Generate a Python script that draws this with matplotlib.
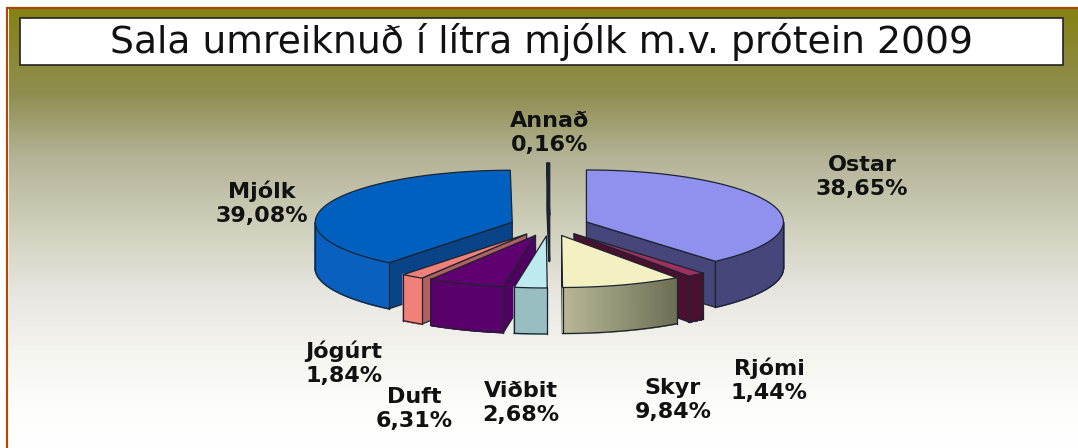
import numpy as np
import matplotlib
matplotlib.use("Agg")
import matplotlib.pyplot as plt
from matplotlib.colors import LinearSegmentedColormap, to_rgb

TITLE = "Sala umreiknuð í lítra mjólk m.v. prótein 2009"
categories = ["Ostar", "Rjómi", "Skyr", "Viðbit", "Duft", "Jógúrt", "Mjólk", "Annað"]
values = [38.65, 1.44, 9.84, 2.68, 6.31, 1.84, 39.08, 0.16]
value_labels = ["38,65%", "1,44%", "9,84%", "2,68%", "6,31%", "1,84%", "39,08%", "0,16%"]
top_colors = ["#9090EE", "#A03060", "#F3F1C2", "#BDEAEE", "#600070", "#F08078", "#0060C0", "#5A7070"]
face_colors = ["#46467A", "#4A1030", "#8A8A6C", "#8FB8BC", "#500060", "#B06060", "#0A4488", "#3A4A4A"]
wall_left = ["#46467A", "#4A1030", "#B8B898", "#98BEC2", "#5A006A", "#F08078", "#0A60BE", "#3A4A4A"]
wall_right = ["#46467A", "#4A1030", "#6E6E55", "#98BEC2", "#5A006A", "#F08078", "#0A60BE", "#3A4A4A"]
label_pos = [(862, 177), (769, 380), (673, 400), (521, 403), (414, 409), (344, 363), (262, 203), (550, 133)]
paint_order = ["Annað", "Mjólk", "Ostar", "Jógúrt", "Rjómi", "Duft", "Skyr", "Viðbit"]

W, H = 1078, 448
CX, CY, RX, RY, DEPTH, EXPLODE = 549.5, 225.6, 197, 52, 46, 0.2
EDGE = "#1c2430"

fig = plt.figure(figsize=(W / 100, H / 100), dpi=100)
ax = fig.add_axes([0, 0, 1, 1])

# background
stops = [(0.0, "#868214"), (0.19, "#8F8E50"), (0.34, "#B5B498"), (0.5, "#D0D0BC"), (0.65, "#E8E6E0"),
         (0.8, "#F6F6F0"), (0.91, "#FDFDFB"), (1.0, "#FFFFFF")]
cmap = LinearSegmentedColormap.from_list("bg", stops)
ax.imshow(np.linspace(0, 1, 440)[:, None], extent=(8.5, W, H, 9), cmap=cmap, aspect="auto", zorder=0, vmin=0, vmax=1)
ax.set_xlim(0, W)
ax.set_ylim(H, 0)
ax.axis("off")
ax.plot([7, 7], [H, 7], color="#A84A08", lw=1.6, zorder=1, solid_capstyle="butt")
ax.plot([6, W], [8, 8], color="#A84A08", lw=1.6, zorder=1, solid_capstyle="butt")

# title box
ax.fill([19.5, 1063, 1063, 19.5], [18.5, 18.5, 65.5, 65.5], facecolor="white", edgecolor="#222222", lw=1.2, zorder=2)
ax.text(541, 42, TITLE, ha="center", va="center", fontsize=27.2, color="#111111", family="DejaVu Sans", zorder=3)


def pt(ox, oy, ang, r=1.0, dz=0.0):
    return ox + r * RX * np.sin(ang), oy - r * RY * np.cos(ang) + dz


fr = np.cumsum([0] + values) / sum(values) * 2 * np.pi
z = 4
for name in paint_order:
    i = categories.index(name)
    lw = 1.5 if name == "Annað" else 0.9
    a, b = fr[i], fr[i + 1]
    m = (a + b) / 2
    ox, oy = pt(CX, CY, m, EXPLODE)
    ap = (ox, oy)
    for ang, vis in ((a, np.sin(a) < -1e-3), (b, np.sin(b) > 1e-3)):
        if vis:
            p = pt(ox, oy, ang)
            ax.fill([ap[0], p[0], p[0], ap[0]], [ap[1], p[1], p[1] + DEPTH, ap[1] + DEPTH],
                    facecolor=face_colors[i], edgecolor=EDGE, lw=lw, zorder=z, joinstyle="round")
    lo, hi = max(a, np.pi / 2), min(b, 1.5 * np.pi)
    if hi > lo:
        ts = np.linspace(lo, hi, 61)
        xs, ys = pt(ox, oy, ts)
        cl, cr = np.array(to_rgb(wall_left[i])), np.array(to_rgb(wall_right[i]))
        xmin, xmax = xs.min(), xs.max()
        for k in range(len(ts) - 1):
            f = (0.5 * (xs[k] + xs[k + 1]) - xmin) / max(xmax - xmin, 1)
            c = cl + (cr - cl) * f
            ax.fill([xs[k], xs[k + 1], xs[k + 1], xs[k]], [ys[k], ys[k + 1], ys[k + 1] + DEPTH, ys[k] + DEPTH],
                    facecolor=c, edgecolor=c, lw=1.2, zorder=z + 0.1)
        ax.plot(xs, ys + DEPTH, color=EDGE, lw=lw, zorder=z + 0.2)
        ax.plot([xs[0], xs[0]], [ys[0], ys[0] + DEPTH], color=EDGE, lw=lw, zorder=z + 0.2)
        ax.plot([xs[-1], xs[-1]], [ys[-1], ys[-1] + DEPTH], color=EDGE, lw=lw, zorder=z + 0.2)
    ts = np.linspace(a, b, 100)
    xs, ys = pt(ox, oy, ts)
    ax.fill(np.r_[ap[0], xs], np.r_[ap[1], ys], facecolor=top_colors[i], edgecolor=EDGE, lw=lw,
            zorder=z + 0.3, joinstyle="round")
    z += 1

for name, val, (x, y) in zip(categories, value_labels, label_pos):
    ax.text(x, y, f"{name}\n{val}", ha="center", va="center", fontsize=16, fontweight="bold",
            family="DejaVu Sans", color="#111111", linespacing=1.22, zorder=40)

fig.savefig("out.png", dpi=100)
